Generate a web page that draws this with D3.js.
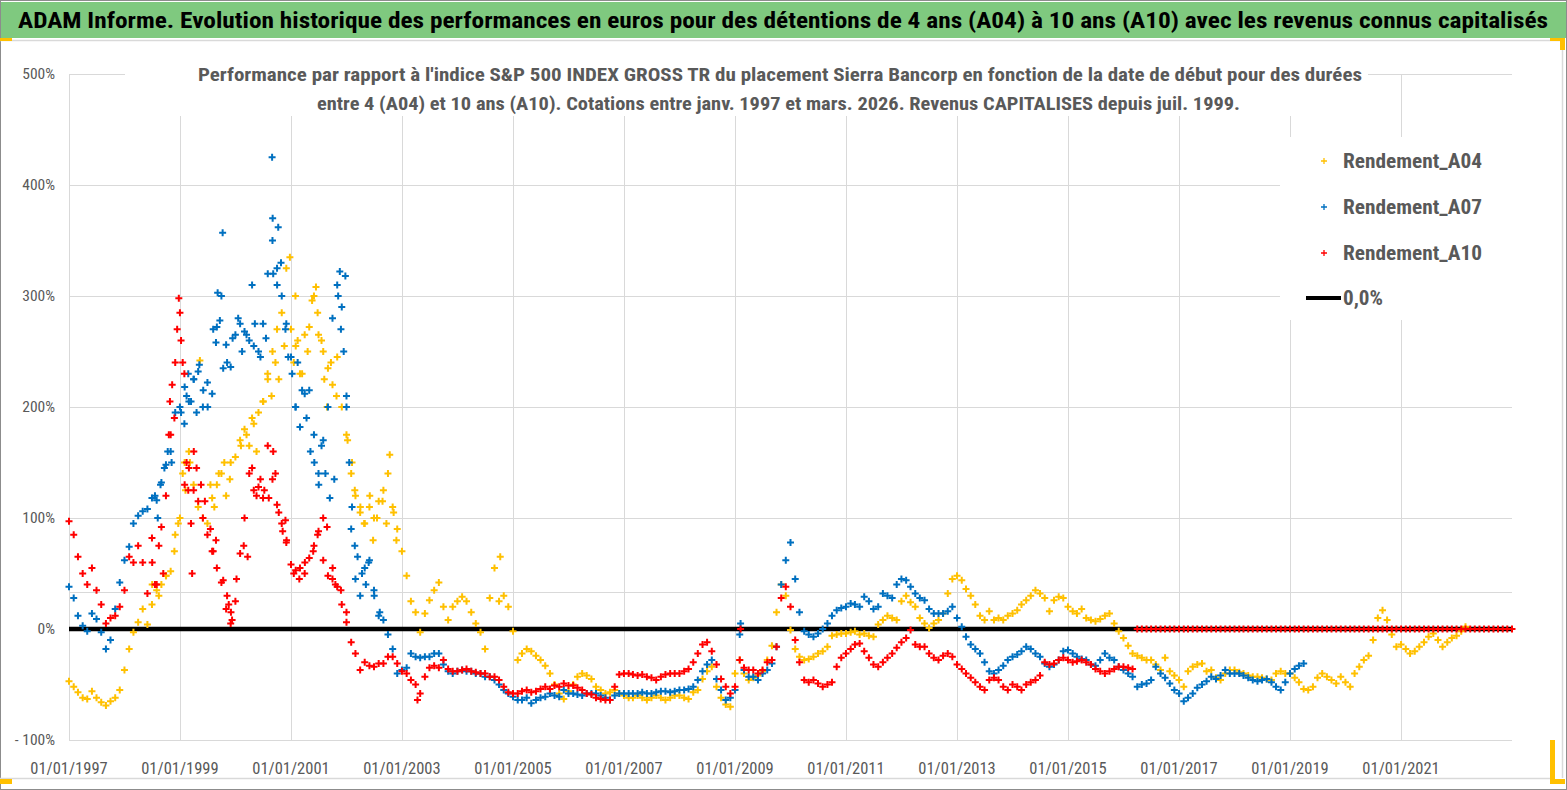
<!DOCTYPE html>
<html>
<head>
<meta charset="utf-8">
<script src="https://cdn.jsdelivr.net/npm/d3@7"></script>
<style>
  body { margin: 0; background: #fff; }
  svg { display: block; }
</style>
</head>
<body>
<div id="chart"></div>
<script>
// monthly values (%), first value = January 1997
var seriesNames = ["Rendement_A04", "Rendement_A07", "Rendement_A10"];
var seriesColors = ["#FFC000", "#0070C0", "#FF0000"];

var a04 = [
  -47,-52,-57,-62,-63,-56,-62,-66,-69,-65,-62,-55,   // 1997
  -37,-18,-3,6,18,4,22,35,40,48,52,85,               // 1998
  100,150,160,130,110,100,95,118,130,140,120,150,    // 1999
  155,170,180,165,185,195,205,225,250,270,285,325,   // 2000
  270,255,230,265,272,300,265,250,235,220,245,200,   // 2001
  175,140,120,105,95,110,100,115,125,140,110,90,     // 2002
  70,48,25,15,-3,14,26,35,42,20,8,20,                // 2003
  25,29,25,15,5,-3,-18,28,55,25,30,20,               // 2004
  -2,-28,-22,-18,-20,-24,-28,-33,-40,-50,-58,-63,    // 2005
  -56,-50,-43,-40,-42,-45,-52,-55,-58,-57,-55,-58,   // 2006
  -60,-62,-62,-60,-62,-64,-62,-60,-62,-64,-62,-60,   // 2007
  -60,-62,-63,-57,-55,-45,-38,-34,-52,-62,-68,-70,   // 2008
  -40,-28,-40,-46,-44,-42,-38,-28,-15,15,40,30,      // 2009
  -1,-18,-25,-28,-27,-25,-22,-20,-16,-6,-5,-4,       // 2010
  -4,-3,-2,-5,-4,-6,-7,4,8,12,10,8,                  // 2011
  25,30,24,20,10,5,1,5,8,14,32,45,                   // 2012
  48,44,36,30,22,12,8,16,8,10,8,12,                  // 2013
  14,17,22,26,30,35,32,28,16,26,29,28,               // 2014
  20,16,14,18,10,8,7,9,12,14,5,-2,                   // 2015
  -8,-15,-22,-24,-26,-28,-28,-32,-37,-26,-38,-42,    // 2016
  -46,-52,-38,-34,-32,-31,-38,-37,-44,-46,-40,-37,   // 2017
  -37,-39,-40,-42,-43,-43,-44,-45,-46,-40,-38,-40,   // 2018
  -40,-44,-48,-54,-55,-52,-44,-40,-43,-46,-49,-43,   // 2019
  -48,-52,-40,-34,-28,-24,-10,10,17,8,-5,-16,        // 2020
  -14,-18,-22,-20,-16,-12,-7,-4,-10,-16,-12,-8,      // 2021
  -6,-2,2                                            // 2022
];

var a07 = [
  38,28,12,3,-2,14,9,-3,-18,-10,18,42,               // 1997
  62,74,95,102,106,108,118,116,132,148,160,195,      // 1998
  200,218,205,225,232,200,222,212,272,300,256,236,   // 1999
  265,275,268,260,255,250,275,320,350,325,300,275,   // 2000
  245,200,182,212,215,175,140,170,200,280,310,290,   // 2001
  200,90,45,30,55,62,35,12,8,-5,-18,-40,             // 2002
  -37,-35,-22,-25,-26,-25,-25,-22,-22,-32,-38,-40,   // 2003
  -38,-37,-38,-38,-40,-40,-43,-43,-46,-50,-55,-58,   // 2004
  -61,-64,-64,-62,-67,-64,-62,-61,-58,-60,-61,-55,   // 2005
  -58,-58,-59,-60,-58,-58,-58,-60,-62,-64,-60,-58,   // 2006
  -58,-58,-58,-58,-57,-58,-58,-57,-56,-56,-57,-56,   // 2007
  -55,-55,-54,-52,-46,-38,-32,-28,-45,-55,-64,-62,   // 2008
  -55,-5,-37,-43,-43,-46,-40,-37,-31,-16,40,62,      // 2009
  78,45,15,-2,-5,-7,-4,0,5,12,17,19,                 // 2010
  20,23,22,20,29,25,18,20,32,30,28,40,               // 2011
  45,44,38,32,28,26,18,14,14,14,16,20,               // 2012
  10,2,-7,-14,-18,-22,-30,-38,-40,-37,-33,-28,       // 2013
  -25,-23,-20,-16,-18,-22,-25,-31,-34,-32,-28,-20,   // 2014
  -19,-22,-25,-27,-28,-32,-33,-28,-22,-26,-28,-34,   // 2015
  -37,-40,-43,-52,-50,-49,-46,-34,-40,-44,-49,-55,   // 2016
  -58,-65,-62,-58,-53,-50,-47,-43,-45,-42,-37,-40,   // 2017
  -40,-40,-42,-44,-46,-47,-46,-45,-48,-52,-55,-48,   // 2018
  -40,-36,-33,-31                                    // 2019
];

var a10 = [
  97,85,65,50,40,55,35,22,5,10,12,20,                // 1997
  35,65,60,75,60,32,82,40,92,120,175,240,            // 1998
  285,130,145,125,115,100,85,70,55,42,18,5,          // 1999
  25,68,100,140,125,128,118,165,135,112,95,78,       // 2000
  58,53,55,50,64,75,88,62,48,45,38,22,               // 2001
  6,-12,-22,-37,-30,-33,-34,-31,-31,-25,-25,-31,     // 2002
  -38,-40,-46,-50,-58,-43,-35,-33,-35,-28,-36,-38,   // 2003
  -38,-37,-36,-38,-39,-40,-40,-43,-43,-46,-52,-57,   // 2004
  -58,-58,-56,-55,-57,-56,-54,-52,-54,-51,-52,-49,   // 2005
  -51,-51,-53,-55,-58,-59,-62,-63,-64,-64,-52,-41,   // 2006
  -40,-40,-41,-42,-41,-43,-44,-46,-43,-41,-40,-40,   // 2007
  -40,-38,-36,-30,-22,-14,-12,-20,-32,-45,-52,-58,   // 2008
  -52,-28,-35,-37,-37,-40,-37,-30,-28,-16,28,38,     // 2009
  20,-10,-30,-46,-48,-46,-49,-52,-50,-48,-34,-26,    // 2010
  -22,-18,-14,-13,-20,-26,-32,-34,-30,-26,-22,-17,   // 2011
  -12,-8,-1,-14,-16,-16,-22,-26,-28,-24,-22,-25,     // 2012
  -32,-36,-40,-44,-48,-52,-55,-46,-44,-46,-52,-55,   // 2013
  -50,-52,-55,-50,-48,-46,-42,-30,-32,-31,-28,-26,   // 2014
  -28,-30,-29,-28,-30,-32,-36,-38,-40,-38,-36,-34,   // 2015
  -34,-35,-36,0,0,0,0,0,0,0,0,0,                     // 2016
  0,0,0,0,0,0,0,0,0,0,0,0,                           // 2017
  0,0,0,0,0,0,0,0,0,0,0,0,                           // 2018
  0,0,0,0,0,0,0,0,0,0,0,0,                           // 2019
  0,0,0,0,0,0,0,0,0,0,0,0,                           // 2020
  0,0,0,0,0,0,0,0,0,0,0,0,                           // 2021
  0,0,0,0,0,0,0,0,0,0,0,0,                           // 2022
  0                                                  // 2023
];

// extra scattered points of the volatile years, [decimal year, %]
var a04Extra = [
  [1998.5,40],[1998.62,30],[1998.75,48],[1998.9,70],[1998.97,95],[1999.05,140],[1999.1,125],[1999.18,150],
  [1999.36,242],[1999.55,130],[1999.62,110],[1999.7,140],[1999.8,150],[1999.9,135],[2000.1,165],[2000.2,175],
  [2000.3,190],[2000.38,160],[2000.5,205],[2000.58,230],[2000.65,210],[2000.72,240],[2000.78,225],[2000.88,255],
  [2000.98,335],[2001.05,240],[2001.08,300],[2001.12,260],[2001.2,230],[2001.3,250],[2001.38,296],[2001.45,308],
  [2001.48,285],[2001.55,260],[2001.6,225],[2001.65,200],[2001.72,240],[2001.82,210],[2002.02,170],[2002.1,150],
  [2002.15,125],[2002.25,110],[2002.32,95],[2002.42,120],[2002.48,80],[2002.55,100],[2002.65,115],[2002.72,95],
  [2002.78,157],[2002.85,105],[2002.9,80],[2004.77,65]
];
var a07Extra = [
  [1998.55,120],[1998.6,100],[1998.65,130],[1998.72,145],[1998.78,160],[1998.85,150],[1999.02,195],[1999.08,185],
  [1999.12,210],[1999.15,230],[1999.2,205],[1999.25,225],[1999.3,195],[1999.35,238],[1999.42,215],[1999.5,200],
  [1999.6,270],[1999.65,258],[1999.68,303],[1999.72,278],[1999.77,357],[1999.78,235],[1999.85,240],[1999.95,262],
  [2000.05,280],[2000.12,250],[2000.2,265],[2000.3,310],[2000.35,275],[2000.45,245],[2000.55,262],[2000.66,425],
  [2000.67,370],[2000.68,320],[2000.75,310],[2000.77,362],[2000.82,330],[2000.9,270],[2000.95,245],[2001.02,230],
  [2001.08,200],[2001.12,240],[2001.2,215],[2001.28,190],[2001.35,160],[2001.42,150],[2001.5,130],[2001.55,165],
  [2001.62,140],[2001.7,118],[2001.78,135],[2001.85,300],[2001.88,322],[2001.9,270],[2001.95,250],[2001.98,318],
  [2002.0,210],[2002.05,150],[2002.1,110],[2002.15,75],[2002.2,65],[2002.28,50],[2002.35,40],[2002.4,60],
  [2002.5,30],[2002.6,15],[2009.1,5]
];
var a10Extra = [
  [1998.5,60],[1998.55,40],[1998.62,75],[1998.7,50],[1998.8,175],[1998.82,205],[1998.86,220],[1998.9,190],
  [1998.95,270],[1998.98,298],[1999.02,260],[1999.05,240],[1999.08,230],[1999.12,150],[1999.15,125],[1999.2,95],
  [1999.22,50],[1999.25,160],[1999.3,145],[1999.38,130],[1999.45,115],[1999.55,90],[1999.6,70],[1999.65,80],
  [1999.78,44],[1999.85,30],[1999.88,22],[1999.92,15],[1999.94,8],[2000.02,45],[2000.15,75],[2000.22,65],
  [2000.3,145],[2000.38,120],[2000.45,135],[2000.52,125],[2000.6,118],[2000.68,160],[2000.72,140],[2000.78,105],
  [2000.85,88],[2000.9,98],[2000.92,80],[2001.05,50],[2001.15,45],[2001.25,60],[2001.4,70],[2001.48,85],
  [2001.58,100],[2001.65,92],[2001.75,55],[2001.8,40],[2001.9,35],[2002.0,15],[2003.28,-64],[2009.1,0]
];

var xTicks = ["1997-01-01", "1999-01-01", "2001-01-01", "2003-01-01", "2005-01-01", "2007-01-01",
              "2009-01-01", "2011-01-01", "2013-01-01", "2015-01-01", "2017-01-01", "2019-01-01", "2021-01-01"];
var yTicks = [-100, 0, 100, 200, 300, 400, 500];
var yTickLabels = ["- 100%", "0%", "100%", "200%", "300%", "400%", "500%"];
var extraGridLine = [33.3];
var zeroLabel = "0,0%";

var mainTitle = "ADAM Informe. Evolution historique des performances en euros pour des détentions de 4 ans (A04) à 10 ans (A10) avec les revenus connus capitalisés";
var subTitle = ["Performance par rapport à l'indice S&P 500 INDEX GROSS TR  du placement Sierra Bancorp en fonction de la date de début pour des durées",
                "entre 4 (A04) et 10 ans (A10). Cotations entre janv. 1997 et mars. 2026. Revenus CAPITALISES depuis juil. 1999."];

var width = 1567, height = 790;
var FONT = "'Liberation Sans Narrow','Arial Narrow','Roboto Condensed','Liberation Sans',sans-serif";
var parseDate = d3.timeParse("%Y-%m-%d");
var start = new Date(1997, 0, 1);

var x = d3.scaleTime()
    .domain([start, new Date(2023, 0, 1)])
    .range([69, 1512]);
var y = d3.scaleLinear()
    .domain([-100, 500])
    .range([740, 74]);

var svg = d3.select("#chart").append("svg")
    .attr("width", width)
    .attr("height", height);

// frame and title bar
svg.append("rect").attr("x", 0.5).attr("y", 0.5).attr("width", width - 1).attr("height", height - 1)
    .attr("fill", "#fff").attr("stroke", "#8c8c8c");
svg.append("rect").attr("x", 1).attr("y", 2).attr("width", width - 2).attr("height", 36)
    .attr("fill", "#7fc97f");
svg.append("line").attr("x1", 0).attr("x2", 1562).attr("y1", 40.5).attr("y2", 40.5)
    .attr("stroke", "#d9d9d9").attr("stroke-width", 1.5);
svg.append("line").attr("x1", 1562.5).attr("x2", 1562.5).attr("y1", 40).attr("y2", 778)
    .attr("stroke", "#d9d9d9").attr("stroke-width", 1.5);
svg.append("line").attr("x1", 0).attr("x2", 1550).attr("y1", 778.5).attr("y2", 778.5)
    .attr("stroke", "#d9d9d9").attr("stroke-width", 1.5);

var marks = svg.append("g").attr("fill", "#FFC000");
marks.append("rect").attr("x", 0).attr("y", 38).attr("width", 12).attr("height", 3);
marks.append("rect").attr("x", 0).attr("y", 779).attr("width", 12).attr("height", 5);
marks.append("rect").attr("x", 1550).attr("y", 38).attr("width", 15).attr("height", 3);
marks.append("rect").attr("x", 1560).attr("y", 38).attr("width", 5).attr("height", 12);
marks.append("rect").attr("x", 1550).attr("y", 740).attr("width", 5).attr("height", 44);
marks.append("rect").attr("x", 1550).attr("y", 779).attr("width", 15).attr("height", 5);

svg.append("text")
    .attr("x", 18).attr("y", 28)
    .attr("textLength", 1530).attr("lengthAdjust", "spacingAndGlyphs")
    .style("font-family", FONT).style("font-size", "22px").style("font-weight", "bold")
    .attr("fill", "#000")
    .text(mainTitle);

// grid
var grid = svg.append("g").attr("stroke", "#d9d9d9").attr("stroke-width", 1);
grid.selectAll("line.h")
    .data(yTicks.concat(extraGridLine))
    .enter().append("line")
    .attr("x1", 69).attr("x2", 1512)
    .attr("y1", d => Math.round(y(d)) + 0.5).attr("y2", d => Math.round(y(d)) + 0.5);
grid.selectAll("line.v")
    .data(xTicks.map(parseDate))
    .enter().append("line")
    .attr("x1", d => Math.round(x(d)) + 0.5).attr("x2", d => Math.round(x(d)) + 0.5)
    .attr("y1", y(500)).attr("y2", y(-100));

// axis labels
svg.append("g").selectAll("text")
    .data(yTicks)
    .enter().append("text")
    .attr("x", 55).attr("y", d => y(d) + 5)
    .attr("text-anchor", "end")
    .style("font-family", FONT).style("font-size", "15.5px")
    .attr("fill", "#595959")
    .text((d, i) => yTickLabels[i]);

var fmt = d3.timeFormat("%d/%m/%Y");
svg.append("g").selectAll("text")
    .data(xTicks.map(parseDate))
    .enter().append("text")
    .attr("x", d => x(d)).attr("y", 774)
    .attr("text-anchor", "middle")
    .style("font-family", FONT).style("font-size", "16.5px")
    .attr("fill", "#595959")
    .text(d => fmt(d));

// zero line
svg.append("line")
    .attr("x1", x(start)).attr("x2", x(new Date(2023, 0, 1)))
    .attr("y1", y(0)).attr("y2", y(0))
    .attr("stroke", "#000").attr("stroke-width", 4.5);

// series
function monthly(values) {
    return values.map((v, i) => ({ date: d3.timeMonth.offset(start, i), value: v }));
}
function fromDecimalYear(t) {
    var yr = Math.floor(t);
    var y0 = new Date(yr, 0, 1), y1 = new Date(yr + 1, 0, 1);
    return new Date(+y0 + (t - yr) * (y1 - y0));
}
function extra(list) {
    return list.map(p => ({ date: fromDecimalYear(p[0]), value: p[1] }));
}
var series = [
    { name: seriesNames[0], color: seriesColors[0], points: monthly(a04).concat(extra(a04Extra)) },
    { name: seriesNames[1], color: seriesColors[1], points: monthly(a07).concat(extra(a07Extra)) },
    { name: seriesNames[2], color: seriesColors[2], points: monthly(a10).concat(extra(a10Extra)) }
];

var plus = "M-3.5,0H3.5M0,-3.5V3.5";
series.forEach(function(s) {
    svg.append("g")
        .attr("stroke", s.color).attr("stroke-width", 2).attr("fill", "none")
        .selectAll("path")
        .data(s.points)
        .enter().append("path")
        .attr("d", plus)
        .attr("transform", d => "translate(" + x(d.date) + "," + y(d.value) + ")");
});

// chart subtitle box
svg.append("rect").attr("x", 125).attr("y", 58).attr("width", 1243).attr("height", 58).attr("fill", "#fff");
var subWidths = [1164, 923], subX = [198, 317], subY = [81, 110];
svg.append("g").selectAll("text")
    .data(subTitle)
    .enter().append("text")
    .attr("x", (d, i) => subX[i]).attr("y", (d, i) => subY[i])
    .attr("textLength", (d, i) => subWidths[i]).attr("lengthAdjust", "spacingAndGlyphs")
    .style("font-family", FONT).style("font-size", "17.5px").style("font-weight", "bold")
    .attr("fill", "#595959")
    .text(d => d);

// legend
svg.append("rect").attr("x", 1280).attr("y", 137).attr("width", 232).attr("height", 183).attr("fill", "#fff");
var legendY = [161, 207, 253, 298];
var legend = svg.append("g");
series.forEach(function(s, i) {
    legend.append("path")
        .attr("d", "M-3,0H3M0,-3V3")
        .attr("transform", "translate(1324," + legendY[i] + ")")
        .attr("stroke", s.color).attr("stroke-width", 1.3);
    legend.append("text")
        .attr("x", 1343).attr("y", legendY[i] + 7)
        .attr("textLength", 139).attr("lengthAdjust", "spacingAndGlyphs")
        .style("font-family", FONT).style("font-size", "20px").style("font-weight", "bold")
        .attr("fill", "#595959")
        .text(s.name);
});
legend.append("line")
    .attr("x1", 1306).attr("x2", 1341).attr("y1", legendY[3]).attr("y2", legendY[3])
    .attr("stroke", "#000").attr("stroke-width", 4);
legend.append("text")
    .attr("x", 1343).attr("y", legendY[3] + 7)
    .attr("textLength", 40).attr("lengthAdjust", "spacingAndGlyphs")
    .style("font-family", FONT).style("font-size", "20px").style("font-weight", "bold")
    .attr("fill", "#595959")
    .text(zeroLabel);
</script>
</body>
</html>
